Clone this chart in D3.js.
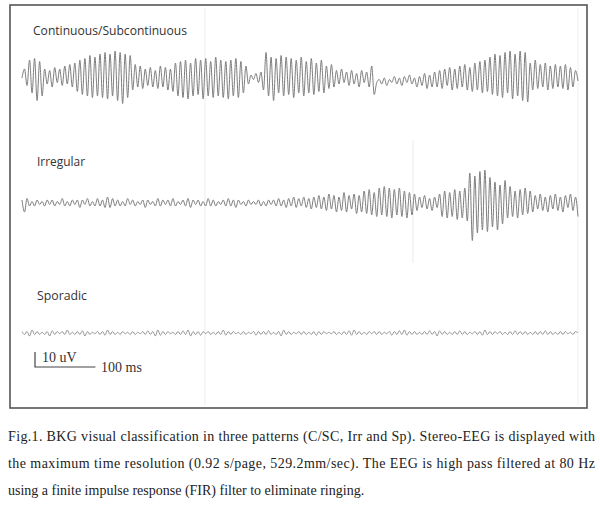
<!DOCTYPE html>
<html>
<head>
	<meta charset="UTF-8">
	<title> EEG background patterns </title>
	<script src="https://d3js.org/d3.v7.min.js"></script>
	<style>
	body { margin: 0; background: #fff; }
	.label { font: 12px "Open Sans", sans-serif; fill: #333; }
	.scale text { font: 14px "Liberation Serif", "Times New Roman", serif; fill: #333; }
	.caption { font: 14px "Liberation Serif", "Times New Roman", serif; fill: #222; }
	</style>
</head>
<body>
<svg width="600" height="510"></svg>
<script type="text/javascript">
// pattern names, top to bottom
var patterns = ["Continuous/Subcontinuous", "Irregular", "Sporadic"];

// page length in ms (0.92 s/page)
var pageMs = 920;

// traces, uV (positive = up)
var contTrace = [
	0, 6, -5, 12, -10, 13, -15, 11,
	-12, 6, -4, 5, -6, 7, -3, 6, -5, 8, -4, 9, -6, 10,
	-9, 12, -11, 13, -12, 15, -13, 14, -12, 16, -13, 17, -14, 16, -12, 18, -15, 17, -17, 16, -13, 15,
	-8, 9, -6, 8, -7, 6, -5, 7, -6, 5, -7, 8, -6, 7, -8, 6, -9, 10,
	-12, 11, -13, 12, -14, 10, -12, 13, -11, 12, -14, 13, -12, 11, -13, 14, -12, 12, -13, 11, -14, 12, -12, 13, -13, 11, -10, 8, -4,
	2, -1, 3, -3, 4,
	-8, 17, -12, 14, -15, 13, -10, 15, -12, 14, -11, 13, -13, 12, -10, 14, -12, 11, -10, 13, -11, 10, -9, 12, -10, 8, -7, 9,
	-6, 5, -4, 6, -3, 4, -5, 5, -4, 3, -6, 5, -3, 4, -6, 8, -11,
	-3, -1, -4, 0, -5, -1, -3, 1, -4, 0, -5, 1, -3, 2, -4, 0, -6, 1, -5, 3, -7, 2, -6, 4,
	-6, 5, -7, 6, -5, 7, -8, 6, -7, 8, -6, 9, -8, 7, -9, 10, -8, 11, -10,
	12, -9, 14, -11, 16, -12, 15, -13, 17, -10, 18, -14, 16, -12, 18, -15, 17, -16,
	10, -8, 12, -7, 9, -6, 10, -8, 8, -7, 9, -6, 8, -7, 9, -8, 7, -6, 5, -2
];

var irrTrace = [
	2, -6, 3, -2,
	1, -2, 2, -1, 1, -2, 2, -1, 2, -2, 1, -1, 3, -2, 1, -2, 2, -1, 2, -3, 2, -1, 3, -2, 1, -2, 3, -2, 2,
	-3, 4, -3, 3, -2,
	2, -2, 1, -2, 3, -1, 2, -2, 1, -1, 2, -3, 2, -1, 1, -2, 3, -2, 2, -1,
	2, -2, 3, -2, 1, -1, 2, -2, 3, -3, 2, -1, 2, -2, 1, -2, 3, -2, 2, -2,
	1, -1, 2, -2, 3, -2, 2, -3, 2, -1, 1, -2, 2, -1, 1, -1, 2, -2, 1, -2,
	2, -1, 2, -2, 3, -2, 2, -3, 3, -2, 4, -3, 3, -2, 4, -3, 3, -4, 4, -3,
	5, -4, 4,
	-5, 6, -4, 5, -6, 4, -5, 7, -6, 5, -4, 6, -7, 5, -6, 8, -7, 9, -8, 7,
	-9, 10, -8, 11, -9, 10, -10, 9, -8, 10, -9, 8, -10, 7, -8, 6, -5,
	4, -3, 5, -4, 3, -5, 4, -3,
	6, -9, 8, -10, 7, -9, 9, -11, 8, -10, 10,
	-12, 20, -25, 18, -20, 21, -18, 22, -19, 17, -16, 14, -18, 12, -14, 15,
	-10, 11, -9, 8, -10, 9, -8, 10, -7, 8,
	-6, 5, -4, 6, -5, 4, -6, 5, -4, 6, -5, 4, -6, 5, -3, 6, -5, 4, -9
];

var spoTrace = [
	1, -1, 1, -2, 2, -1, 1, -1, 0.5, -1, 1, -2, 1.5, -1, 1, -0.5, 1, -1, 2, -1,
	0.5, -1, 1, -1, 1.5, -2, 1, -1, 0.5, -0.5, 1, -1, 1, -1.5, 2, -1, 1, -1, 0.5, -1,
	1, -0.5, 0.5, -1, 1, -1, 0.5, -0.5, 1, -1, 1.5, -1, 1, -2, 2, -1.5, 1, -1, 1, -0.5,
	0.5, -1, 1, -1, 1.5, -1, 2, -2, 1, -1, 1, -1.5, 1, -0.5, 1, -1, 0.5, -1, 1, -1,
	2, -1.5, 1, -1, 1, -0.5, 0.5, -1, 1, -1, 0.5, -0.5, 1, -1.5, 1, -1, 1, -1, 1.5, -1,
	0.5, -1, 1, -2, 2, -1, 1, -1, 0.5, -0.5, 1, -1, 1, -1, 0.5, -1, 1, -1.5, 1, -1,
	1, -0.5, 0.5, -0.5, 1, -1, 0.5, -1, 1, -1, 1.5, -1.5, 2, -1, 1, -1, 0.5, -1, 1, -0.5,
	1, -1, 1, -1, 0.5, -0.5, 1, -1.5, 1, -1, 1.5, -1, 2, -1.5, 1, -1, 1, -1, 0.5, -1,
	1, -1, 1.5, -1, 1, -2, 1.5, -1, 1, -1, 0.5, -1, 1, -1, 1.5, -1, 1, -1, 0.5, -0.5,
	1, -1, 1, -1.5, 2, -1, 1, -1, 1, -0.5, 1, -1, 0.5, -1, 1, -1, 1.5, -1, 1, -1,
	1, -1, 0.5, -1, 1, -1, 1, -1, 1.5, -1, 1, -1, 0.5, -1, 1, -1, 1, -0.5, 0.5, -1,
	1, 0
];

var traces = [contTrace, irrTrace, spoTrace];

// scale bar
var barUv = 10, barMs = 100;

// caption lines
var captionLines = [
	"Fig.1. BKG visual classification in three patterns (C/SC, Irr and Sp). Stereo-EEG is displayed with",
	"the maximum time resolution (0.92 s/page, 529.2mm/sec). The EEG is high pass filtered at 80 Hz",
	"using a finite impulse response (FIR) filter to eliminate ringing."
];

var svg = d3.select("svg");

// frame
svg.append("rect")
	.attr("x", 10).attr("y", 5)
	.attr("width", 577).attr("height", 403)
	.attr("fill", "#fff")
	.attr("stroke", "#555")
	.attr("stroke-width", 1.6);

// faint page marks seen in the scan
svg.append("line").attr("x1", 205).attr("x2", 205).attr("y1", 8).attr("y2", 405)
	.attr("stroke", "#f6f6f6").attr("stroke-width", 2);
svg.append("line").attr("x1", 413).attr("x2", 413).attr("y1", 140).attr("y2", 263)
	.attr("stroke", "#f2f2f2").attr("stroke-width", 1.5);
svg.append("line").attr("x1", 578).attr("x2", 578).attr("y1", 8).attr("y2", 405)
	.attr("stroke", "#f7f7f7").attr("stroke-width", 2);

// time runs across the page
var x = d3.scaleLinear().domain([0, pageMs]).range([22, 578]);

var labelY = [35, 166, 300];
var centers = [78, 203, 333];
var labelW = [154, 48, 50];

patterns.forEach(function(name, k) {
	var data = traces[k];
	var step = pageMs / (data.length - 1);
	var y = d3.scaleLinear().domain([-20, 20]).range([centers[k] + 30, centers[k] - 30]);

	var line = d3.line()
		.x(function(d, i) { return x(i * step); })
		.y(function(d) { return y(d); })
		.curve(d3.curveMonotoneX);

	svg.append("path")
		.datum(data)
		.attr("d", line)
		.attr("fill", "none")
		.attr("stroke", "#7d7d7d")
		.attr("stroke-width", k == 2 ? 0.8 : 1);

	svg.append("text")
		.attr("class", "label")
		.attr("x", k == 0 ? 33 : 37)
		.attr("y", labelY[k])
		.attr("textLength", labelW[k])
		.attr("lengthAdjust", "spacingAndGlyphs")
		.text(name);
});

// scale bar, uses the same uV -> px as the traces
var yBar = d3.scaleLinear().domain([0, barUv]).range([367, 352]);
var bar = svg.append("g").attr("class", "scale");
bar.append("polyline")
	.attr("points", [[35, yBar(barUv)], [35, yBar(0)], [35 + x(barMs) - x(0), yBar(0)]].join(" "))
	.attr("fill", "none")
	.attr("stroke", "#444")
	.attr("stroke-width", 1.2);
bar.append("text").attr("x", 42).attr("y", 362).text(barUv + " uV");
bar.append("text").attr("x", 101).attr("y", 372).text(barMs + " ms");

// caption under the frame
svg.selectAll(".caption")
	.data(captionLines)
	.enter().append("text")
	.attr("class", "caption")
	.attr("x", 8)
	.attr("y", function(d, i) { return 441 + i * 27; })
	.attr("textLength", function(d, i) { return i < 2 ? 587 : null; })
	.attr("lengthAdjust", "spacing")
	.text(function(d) { return d; });

</script>
</body>
</html>
